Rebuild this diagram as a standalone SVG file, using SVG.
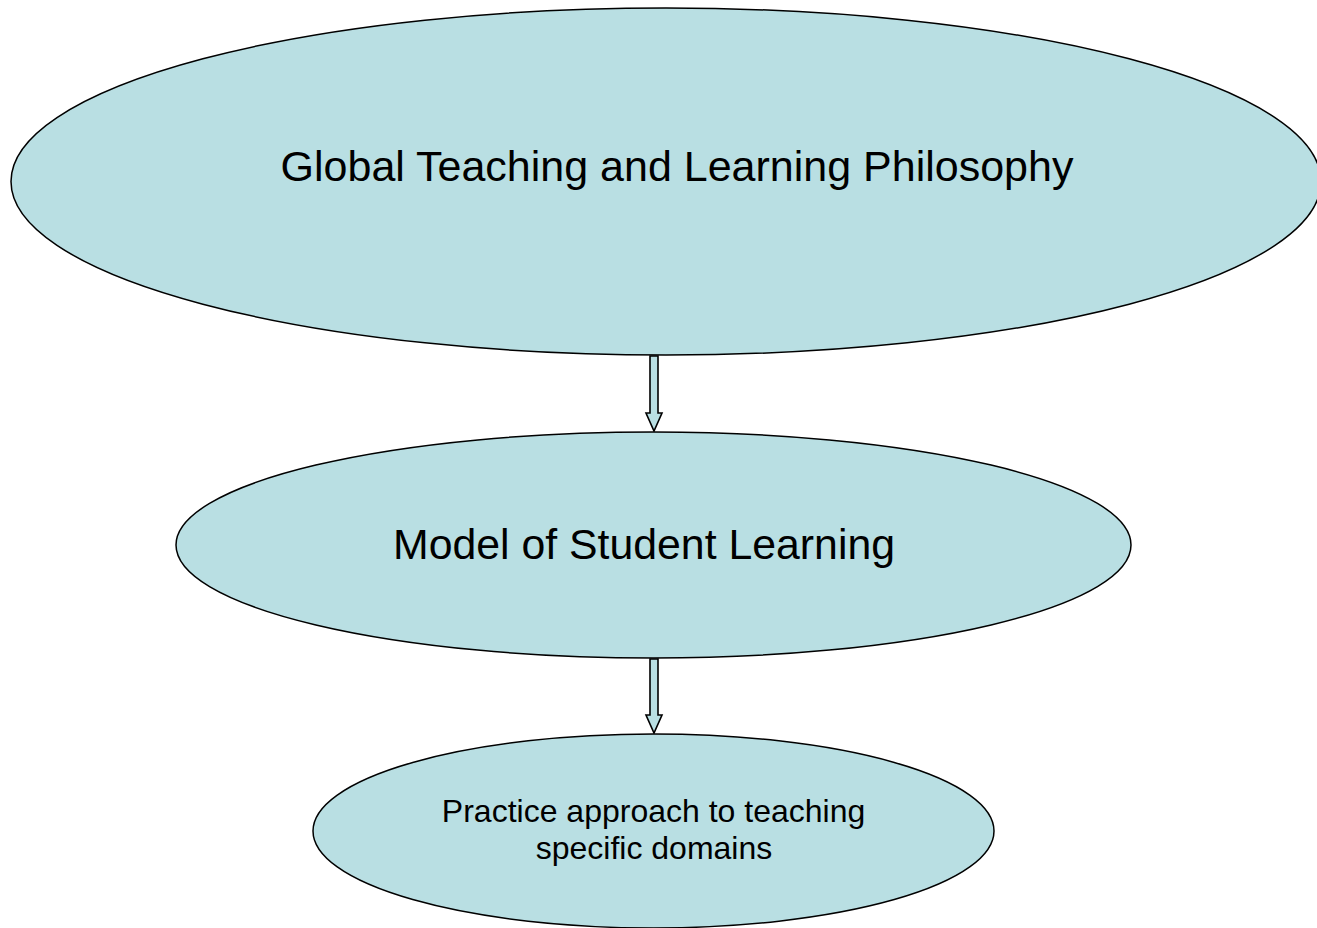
<svg xmlns="http://www.w3.org/2000/svg" width="1317" height="928" viewBox="0 0 1317 928">
  <style>
    .node { fill: #B9DFE3; stroke: #000000; stroke-width: 1.5; }
    .arrow { fill: #B9DFE3; stroke: #000000; stroke-width: 1.6; stroke-linejoin: miter; }
    .label { font-family: "Liberation Sans", Arial, sans-serif; fill: #000000; text-anchor: middle; }
  </style>
  <rect x="0" y="0" width="1317" height="928" fill="#FFFFFF"/>

  <!-- block arrows between levels -->
  <g id="connectors">
    <polygon class="arrow" points="650,356 658,356 658,413 662,413 654,431 646,413 650,413"/>
    <polygon class="arrow" points="650,659 658,659 658,715 662,715 654,733 646,715 650,715"/>
  </g>

  <g id="philosophy">
    <ellipse class="node" cx="666" cy="181.5" rx="655" ry="173.5"/>
    <text class="label" x="677" y="181" font-size="43">Global Teaching and Learning Philosophy</text>
  </g>

  <g id="student-model">
    <ellipse class="node" cx="653.5" cy="545" rx="477.5" ry="113"/>
    <text class="label" x="644" y="559" font-size="42.8">Model of Student Learning</text>
  </g>

  <g id="practice">
    <ellipse class="node" cx="653.5" cy="831" rx="340.5" ry="97"/>
    <text class="label" font-size="32">
      <tspan x="654" y="822" dx="4">Practice approach to teaching</tspan>
      <tspan x="654" y="859">specific domains</tspan>
    </text>
  </g>
</svg>
